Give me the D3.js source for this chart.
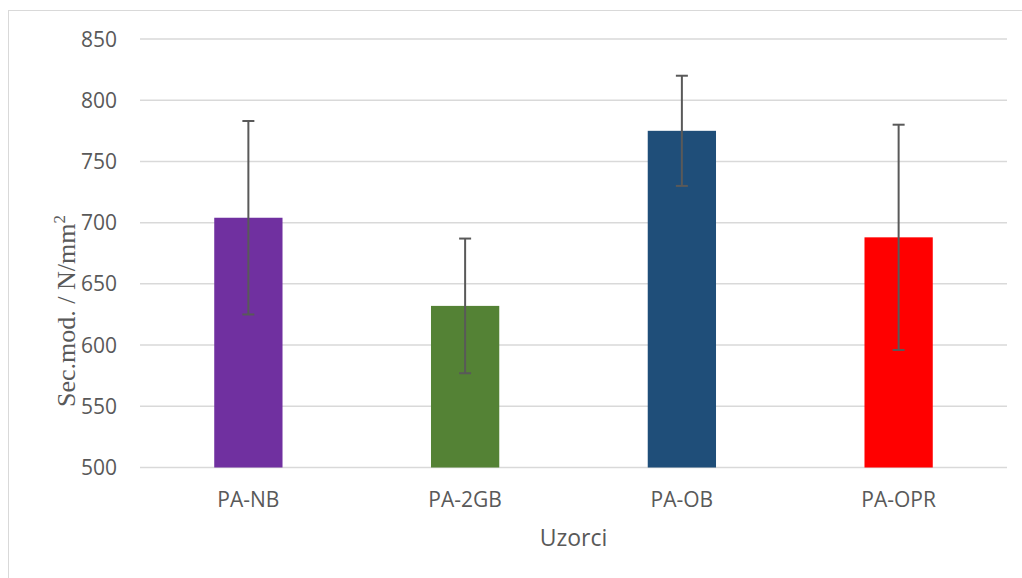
<!DOCTYPE html>
<html><head><meta charset="utf-8">
<script src="https://cdn.jsdelivr.net/npm/d3@7"></script>
<style>body{margin:0;background:#fff;}svg{display:block;}</style>
</head><body>
<svg id="c" width="1022" height="578"></svg>
<script>
const categories = ["PA-NB", "PA-2GB", "PA-OB", "PA-OPR"];
const values = [704, 632, 775, 688];
const errors = [79, 55, 45, 92];
const colors = ["#7030A0", "#548235", "#1F4E79", "#FF0000"];
const yTicks = [500, 550, 600, 650, 700, 750, 800, 850];

const svg = d3.select("#c");
const m = {left: 140, right: 1007, top: 39, bottom: 467.5};
const x = d3.scaleBand().domain(categories).range([m.left, m.right]).paddingInner(0.685).paddingOuter(0.3425);
const y = d3.scaleLinear().domain([500, 850]).range([m.bottom, m.top]);

svg.append("rect").attr("x", 8.5).attr("y", 10.5).attr("width", 1030).attr("height", 600)
  .attr("fill", "#fff").attr("stroke", "#d9d9d9").attr("stroke-width", 1);

svg.append("g").selectAll("line").data(yTicks).join("line")
  .attr("x1", m.left).attr("x2", m.right)
  .attr("y1", d => y(d)).attr("y2", d => y(d))
  .attr("stroke", "#d9d9d9").attr("stroke-width", 1.5);

svg.append("g").selectAll("text").data(yTicks).join("text")
  .attr("x", 117).attr("y", d => y(d)).attr("dy", "0.36em")
  .attr("text-anchor", "end").attr("fill", "#595959")
  .style("font", "21px 'Open Sans', sans-serif").text(d => d);

svg.append("g").selectAll("rect").data(categories).join("rect")
  .attr("x", d => x(d)).attr("width", x.bandwidth())
  .attr("y", (d, i) => y(values[i])).attr("height", (d, i) => y(500) - y(values[i]))
  .attr("fill", (d, i) => colors[i]);

const eb = svg.append("g").attr("stroke", "#595959").attr("stroke-width", 2);
categories.forEach((c, i) => {
  const cx = x(c) + x.bandwidth() / 2;
  const t = y(values[i] + errors[i]), b = y(values[i] - errors[i]);
  eb.append("line").attr("x1", cx).attr("x2", cx).attr("y1", t).attr("y2", b);
  eb.append("line").attr("x1", cx - 6).attr("x2", cx + 6).attr("y1", t).attr("y2", t);
  eb.append("line").attr("x1", cx - 6).attr("x2", cx + 6).attr("y1", b).attr("y2", b);
});

svg.append("g").selectAll("text").data(categories).join("text")
  .attr("x", d => x(d) + x.bandwidth() / 2).attr("y", 499).attr("dy", "0.36em")
  .attr("text-anchor", "middle").attr("fill", "#595959")
  .style("font", "21px 'Open Sans', sans-serif").text(d => d);

svg.append("text").attr("x", (m.left + m.right) / 2).attr("y", 538).attr("dy", "0.36em")
  .attr("text-anchor", "middle").attr("fill", "#595959")
  .style("font", "23px 'Open Sans', sans-serif").text("Uzorci");

const yl = svg.append("text").attr("transform", "translate(66,311) rotate(-90)")
  .attr("text-anchor", "middle").attr("dy", "0.35em").attr("fill", "#595959")
  .style("font", "26px 'Liberation Serif', serif");
yl.append("tspan").text("Sec.mod. / N/mm");
yl.append("tspan").attr("dy", "-0.6em").style("font-size", "17px").text("2");
</script>
</body></html>
